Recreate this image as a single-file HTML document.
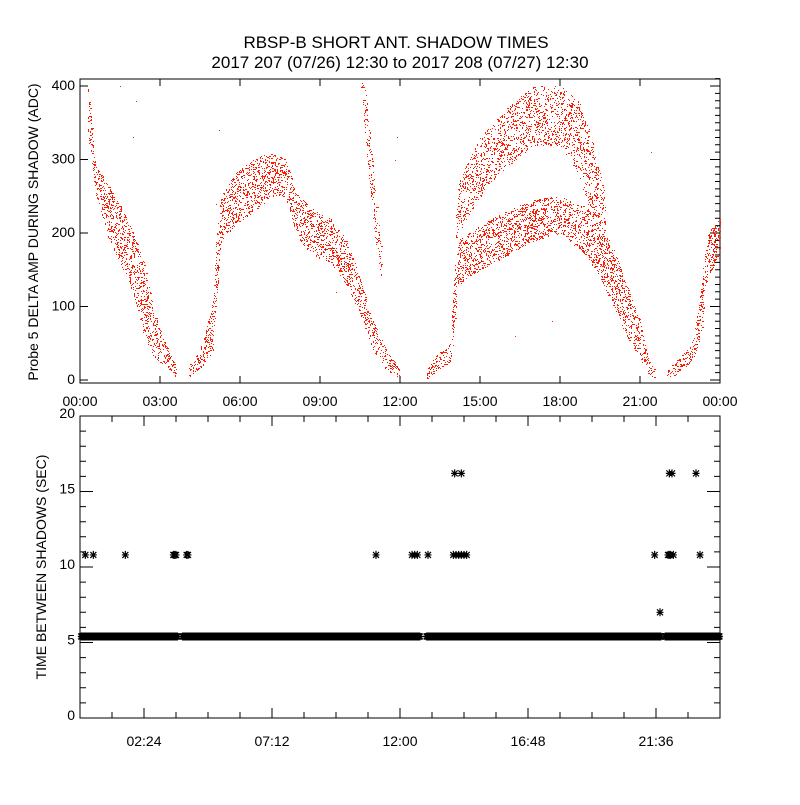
<!DOCTYPE html>
<html><head><meta charset="utf-8"><style>
body{margin:0;background:#fff;}
svg text{font-family:"Liberation Sans",sans-serif;fill:#000;}
</style></head><body>
<svg id="chart" width="800" height="800" viewBox="0 0 800 800" xmlns="http://www.w3.org/2000/svg">
<rect width="800" height="800" fill="#fff"/>
<text x="396" y="48" font-size="17" text-anchor="middle">RBSP-B SHORT ANT. SHADOW TIMES</text>
<text x="400" y="68" font-size="17" text-anchor="middle">2017 207 (07/26) 12:30 to 2017 208 (07/27) 12:30</text>
<text transform="translate(38,232) rotate(-90)" font-size="14" text-anchor="middle">Probe 5 DELTA AMP DURING SHADOW (ADC)</text>
<text transform="translate(46,567) rotate(-90)" font-size="14" text-anchor="middle">TIME BETWEEN SHADOWS (SEC)</text>
<g id="topAxes"></g>
<g id="topData"></g>
<g id="botAxes"></g>
<g id="botData"></g>
</svg>
<script>
// ---- Top panel: amplitude bands (hour, low, high) ----
const bandA_hours=[0.3,0.6,1.0,1.5,2.0,2.4,2.8,3.2,3.6];
const bandA_lo=[330,250,200,160,120,60,30,20,5];
const bandA_hi=[400,290,270,240,200,160,90,50,20];
const bandB_hours=[4.1,4.6,5.0,5.1,5.3,5.8,6.5,7.2,7.7,8.2,8.8,9.4,10.0,10.5,11.0,11.5,12.0];
const bandB_lo=[5,20,40,100,190,210,230,250,250,190,170,160,130,90,40,15,2];
const bandB_hi=[20,50,110,200,250,280,300,310,300,250,230,220,190,140,80,40,15];
const spike_hours=[10.55,10.7,10.9,11.1,11.3];
const spike_lo=[380,330,250,180,140];
const spike_hi=[405,400,330,250,180];
const bandD_hours=[13.0,13.4,13.9,14.0,14.2,15.0,16.0,17.0,18.0,19.0,19.5,20.0,20.5,21.0,21.3,21.6];
const bandD_lo=[2,15,25,50,130,150,170,190,200,170,140,100,60,30,10,2];
const bandD_hi=[15,35,50,150,190,210,230,245,250,235,215,180,130,80,30,10];
const bandU_hours=[14.1,14.2,15.0,16.0,17.0,18.0,18.7,19.2,19.7];
const bandU_lo=[190,200,250,290,320,320,280,220,150];
const bandU_hi=[230,270,330,370,400,400,380,330,250];
const bandE_hours=[22.0,22.5,23.0,23.3,23.5,24.0];
const bandE_lo=[2,10,30,60,140,170];
const bandE_hi=[15,30,55,130,200,220];
const strayHours=[1.5,2.0,2.1,5.1,5.2,9.6,11.8,11.9,21.4,16.3,17.7];
const strayVals=[400,330,380,240,340,120,300,330,310,60,80];

// ---- Bottom panel: time between shadows ----
const baseSegStart=[0.05,3.85,13.0,21.95];
const baseSegEnd=[3.65,12.75,21.8,24.0];
const baseValue=5.4;
const starHours=[0.2,0.5,1.7,3.5,3.55,3.6,4.0,4.05,11.1,12.45,12.55,12.65,13.05,14.0,14.1,14.2,14.3,14.4,14.5,21.55,22.05,22.1,22.15,22.25,23.25,14.05,14.3,22.1,22.2,23.1,21.75];
const starVals=[10.8,10.8,10.8,10.8,10.8,10.8,10.8,10.8,10.8,10.8,10.8,10.8,10.8,10.8,10.8,10.8,10.8,10.8,10.8,10.8,10.8,10.8,10.8,10.8,10.8,16.2,16.2,16.2,16.2,16.2,7.0];

const topXTicks=["00:00","03:00","06:00","09:00","12:00","15:00","18:00","21:00","00:00"];
const topYTicks=[0,100,200,300,400];
const botXTicks=["02:24","07:12","12:00","16:48","21:36"];
const botXTickHours=[2.4,7.2,12.0,16.8,21.6];
const botYTicks=[0,5,10,15,20];

const NS="http://www.w3.org/2000/svg";
const X0=80,X1=720;
function xH(h){return X0+h*(X1-X0)/24;}
function yT(v){return 380-v*0.735;}
function yB(v){return 718-v*15.1;}
function mk(tag,attrs,parent){const e=document.createElementNS(NS,tag);for(const k in attrs)e.setAttribute(k,attrs[k]);parent.appendChild(e);return e;}
function hash(x,y){let h=(x*374761393+y*668265263)|0;h=Math.imul(h^(h>>>13),1274126177);h=h^(h>>>16);return (h>>>0)%1000;}

// Axes top
const ta=document.getElementById('topAxes');
let box=mk('rect',{x:X0,y:79,width:X1-X0,height:304,fill:'none',stroke:'#000','stroke-width':1},ta);


let tp='';
for(let i=0;i<=8;i++){const x=xH(i*3);tp+=`M${x} 383v-7M${x} 79v7`;}
for(let v=0;v<=400;v+=100){tp+=`M${X0} ${yT(v)}h8M${X1} ${yT(v)}h-10`;}
for(let v=0;v<=410;v+=10){tp+=`M${X1} ${yT(v)}h-5`;}
let tpe=mk('path',{d:tp,stroke:'#000','stroke-width':1,fill:'none'},ta);


topXTicks.forEach((t,i)=>{const e=mk('text',{x:xH(i*3),y:406,'font-size':14,'text-anchor':'middle'},ta);e.textContent=t;

});
topYTicks.forEach(v=>{const e=mk('text',{x:75,y:yT(v)+4,'font-size':14,'text-anchor':'end'},ta);e.textContent=v;

});

// Top data
const td=document.getElementById('topData');
function interp(hs,vs,h){if(h<=hs[0])return vs[0];for(let i=1;i<hs.length;i++){if(h<=hs[i]){const t=(h-hs[i-1])/(hs[i]-hs[i-1]);return vs[i-1]+t*(vs[i]-vs[i-1]);}}return vs[vs.length-1];}
function band(hs,lo,hi,name,dens){
  let dr='',dd='';
  const xa=Math.round(xH(hs[0])),xb=Math.round(xH(hs[hs.length-1]));
  for(let x=xa;x<=xb;x++){
    const h=(x-X0)*24/(X1-X0);
    const yl=Math.min(379,Math.round(yT(interp(hs,lo,h)))),yh=Math.max(80,Math.round(yT(interp(hs,hi,h))));
    for(let y=yh;y<=yl;y++){
      const r=hash(x,y);
      if(r>=dens)continue;
      if(r<6)dd+=`M${x} ${y}h1v1h-1z`;
      else if(r%9==0)dr+=`M${x} ${y}h2v1h-2z`;
      else if(r%11==0)dr+=`M${x} ${y}h1v2h-1z`;
      else dr+=`M${x} ${y}h1v1h-1z`;
    }
  }
  const r=mk('path',{d:dr,fill:'#ff1a00'},td);
  
  
  const d=mk('path',{d:dd,fill:'#404060'},td);
  
  
}
band(bandA_hours,bandA_lo,bandA_hi,'band-early-descent',200);
band(bandB_hours,bandB_lo,bandB_hi,'band-morning-arc',210);
band(spike_hours,spike_lo,spike_hi,'band-spike',160);
band(bandD_hours,bandD_lo,bandD_hi,'band-afternoon-lower',220);
band(bandU_hours,bandU_lo,bandU_hi,'band-afternoon-upper',170);
band(bandE_hours,bandE_lo,bandE_hi,'band-late-rise',230);
let sd='';
strayHours.forEach((h,i)=>{sd+=`M${Math.round(xH(h))} ${Math.round(yT(strayVals[i]))}h1v1h-1z`;});
let se=mk('path',{d:sd,fill:'#ff1a00'},td);



// Axes bottom
const ba=document.getElementById('botAxes');
let bbox=mk('rect',{x:X0,y:416,width:X1-X0,height:302,fill:'none',stroke:'#000','stroke-width':1},ba);


let bp='';
for(let h=1.2;h<24;h+=1.2){const big=Math.abs(((h/2.4)%2)-1)<0.01;const L=big?10:6;const x=xH(h);bp+=`M${x} 718v-${L}M${x} 416v${L}`;}
for(let v=0;v<=20;v++){const L=v%5==0?13:6;bp+=`M${X0} ${yB(v)}h${L}M${X1} ${yB(v)}h-${L}`;}
let bpe=mk('path',{d:bp,stroke:'#000','stroke-width':1,fill:'none'},ba);


botXTicks.forEach((t,i)=>{const e=mk('text',{x:xH(botXTickHours[i]),y:746,'font-size':14,'text-anchor':'middle'},ba);e.textContent=t;

});
botYTicks.forEach(v=>{const e=mk('text',{x:75,y:yB(v)+2,'font-size':14,'text-anchor':'end'},ba);e.textContent=v;

});

// Bottom data
const bd=document.getElementById('botData');
function star(x,y){return `M${x-3.5} ${y}h7M${x} ${y-4}v8M${x-3} ${y-3}l6 6M${x-3} ${y+3}l6 -6`;}
let bs='';
baseSegStart.forEach((s,i)=>{for(let x=xH(s);x<=xH(baseSegEnd[i]);x+=1)bs+=star(x,yB(baseValue));});
let bse=mk('path',{d:bs,stroke:'#000','stroke-width':1.5,fill:'none'},bd);


let ss='';
starHours.forEach((h,i)=>{ss+=star(xH(h),yB(starVals[i]));});
let sse=mk('path',{d:ss,stroke:'#000','stroke-width':1.2,fill:'none'},bd);


</script>
</body></html>
